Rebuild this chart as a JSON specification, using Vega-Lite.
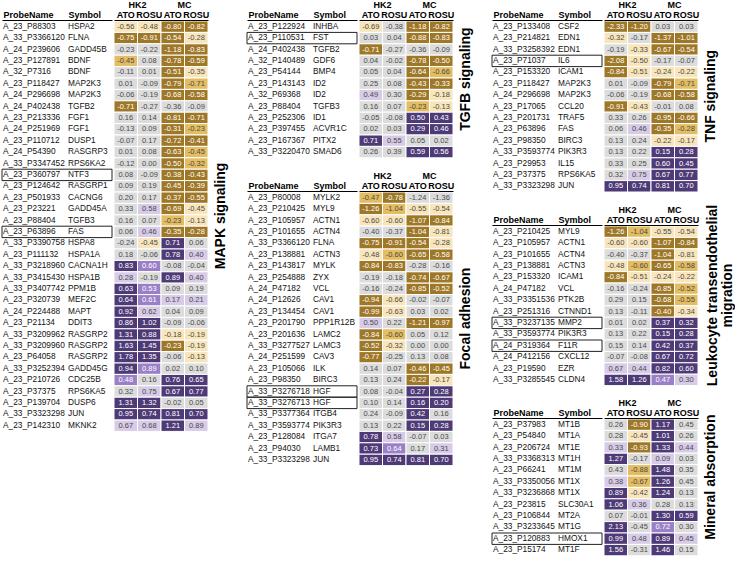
{
  "$schema": "https://vega.github.io/schema/vega-lite/v6.json",
  "padding": {"left": 1, "top": 0, "right": 0, "bottom": 0},
  "config": {
    "view": {"stroke": null},
    "font": "Liberation Sans",
    "locale": {"number": {"decimal": ".", "thousands": ",", "grouping": [3], "currency": ["$", ""], "minus": "-"}}
  },
  "datasets": {
    "mapk_rows": [
      {"probe": "A_23_P88303", "gene": "HSPA2"},
      {"probe": "A_33_P3366120", "gene": "FLNA"},
      {"probe": "A_24_P239606", "gene": "GADD45B"},
      {"probe": "A_23_P127891", "gene": "BDNF"},
      {"probe": "A_32_P7316", "gene": "BDNF"},
      {"probe": "A_23_P118427", "gene": "MAP2K3"},
      {"probe": "A_24_P296698", "gene": "MAP2K3"},
      {"probe": "A_24_P402438", "gene": "TGFB2"},
      {"probe": "A_23_P213336", "gene": "FGF1"},
      {"probe": "A_24_P251969", "gene": "FGF1"},
      {"probe": "A_23_P110712", "gene": "DUSP1"},
      {"probe": "A_24_P54390", "gene": "RASGRP3"},
      {"probe": "A_33_P3347452", "gene": "RPS6KA2"},
      {"probe": "A_23_P360797", "gene": "NTF3", "bold": true},
      {"probe": "A_23_P124642", "gene": "RASGRP1"},
      {"probe": "A_23_P501933", "gene": "CACNG6"},
      {"probe": "A_23_P23221", "gene": "GADD45A"},
      {"probe": "A_23_P88404", "gene": "TGFB3"},
      {"probe": "A_23_P63896", "gene": "FAS", "bold": true},
      {"probe": "A_33_P3390758", "gene": "HSPA8"},
      {"probe": "A_23_P111132", "gene": "HSPA1A"},
      {"probe": "A_33_P3218960", "gene": "CACNA1H"},
      {"probe": "A_33_P3415430", "gene": "HSPA1B"},
      {"probe": "A_33_P3407742", "gene": "PPM1B"},
      {"probe": "A_23_P320739", "gene": "MEF2C"},
      {"probe": "A_24_P224488", "gene": "MAPT"},
      {"probe": "A_23_P21134", "gene": "DDIT3"},
      {"probe": "A_33_P3209962", "gene": "RASGRP2"},
      {"probe": "A_33_P3209960", "gene": "RASGRP2"},
      {"probe": "A_23_P64058", "gene": "RASGRP2"},
      {"probe": "A_33_P3252394", "gene": "GADD45G"},
      {"probe": "A_23_P210726", "gene": "CDC25B"},
      {"probe": "A_23_P37375", "gene": "RPS6KA5"},
      {"probe": "A_23_P139704", "gene": "DUSP6"},
      {"probe": "A_33_P3323298", "gene": "JUN"},
      {"probe": "A_23_P142310", "gene": "MKNK2"}
    ],
    "mapk_cells": [
      {"probe": "A_23_P88303", "col": "HK2 ATO", "val": -0.56, "lvl": -1},
      {"probe": "A_23_P88303", "col": "HK2 ROSU", "val": -0.48, "lvl": -1},
      {"probe": "A_23_P88303", "col": "MC ATO", "val": -0.80, "lvl": -3},
      {"probe": "A_23_P88303", "col": "MC ROSU", "val": -0.82, "lvl": -3},
      {"probe": "A_33_P3366120", "col": "HK2 ATO", "val": -0.75, "lvl": -3},
      {"probe": "A_33_P3366120", "col": "HK2 ROSU", "val": -0.91, "lvl": -3},
      {"probe": "A_33_P3366120", "col": "MC ATO", "val": -0.54, "lvl": -3},
      {"probe": "A_33_P3366120", "col": "MC ROSU", "val": -0.28, "lvl": -1},
      {"probe": "A_24_P239606", "col": "HK2 ATO", "val": -0.23, "lvl": 0},
      {"probe": "A_24_P239606", "col": "HK2 ROSU", "val": -0.22, "lvl": 0},
      {"probe": "A_24_P239606", "col": "MC ATO", "val": -1.18, "lvl": -3},
      {"probe": "A_24_P239606", "col": "MC ROSU", "val": -0.83, "lvl": -3},
      {"probe": "A_23_P127891", "col": "HK2 ATO", "val": -0.45, "lvl": -2},
      {"probe": "A_23_P127891", "col": "HK2 ROSU", "val": 0.08, "lvl": 0},
      {"probe": "A_23_P127891", "col": "MC ATO", "val": -0.78, "lvl": -3},
      {"probe": "A_23_P127891", "col": "MC ROSU", "val": -0.59, "lvl": -3},
      {"probe": "A_32_P7316", "col": "HK2 ATO", "val": -0.11, "lvl": 0},
      {"probe": "A_32_P7316", "col": "HK2 ROSU", "val": 0.01, "lvl": 0},
      {"probe": "A_32_P7316", "col": "MC ATO", "val": -0.51, "lvl": -3},
      {"probe": "A_32_P7316", "col": "MC ROSU", "val": -0.35, "lvl": -1},
      {"probe": "A_23_P118427", "col": "HK2 ATO", "val": 0.01, "lvl": 0},
      {"probe": "A_23_P118427", "col": "HK2 ROSU", "val": -0.09, "lvl": 0},
      {"probe": "A_23_P118427", "col": "MC ATO", "val": -0.79, "lvl": -3},
      {"probe": "A_23_P118427", "col": "MC ROSU", "val": -0.71, "lvl": -2},
      {"probe": "A_24_P296698", "col": "HK2 ATO", "val": -0.06, "lvl": 0},
      {"probe": "A_24_P296698", "col": "HK2 ROSU", "val": -0.19, "lvl": 0},
      {"probe": "A_24_P296698", "col": "MC ATO", "val": -0.68, "lvl": -3},
      {"probe": "A_24_P296698", "col": "MC ROSU", "val": -0.58, "lvl": -3},
      {"probe": "A_24_P402438", "col": "HK2 ATO", "val": -0.71, "lvl": -3},
      {"probe": "A_24_P402438", "col": "HK2 ROSU", "val": -0.27, "lvl": 0},
      {"probe": "A_24_P402438", "col": "MC ATO", "val": -0.36, "lvl": 0},
      {"probe": "A_24_P402438", "col": "MC ROSU", "val": -0.09, "lvl": 0},
      {"probe": "A_23_P213336", "col": "HK2 ATO", "val": 0.16, "lvl": 0},
      {"probe": "A_23_P213336", "col": "HK2 ROSU", "val": 0.14, "lvl": 0},
      {"probe": "A_23_P213336", "col": "MC ATO", "val": -0.81, "lvl": -3},
      {"probe": "A_23_P213336", "col": "MC ROSU", "val": -0.71, "lvl": -3},
      {"probe": "A_24_P251969", "col": "HK2 ATO", "val": -0.13, "lvl": 0},
      {"probe": "A_24_P251969", "col": "HK2 ROSU", "val": 0.09, "lvl": 0},
      {"probe": "A_24_P251969", "col": "MC ATO", "val": -0.31, "lvl": -3},
      {"probe": "A_24_P251969", "col": "MC ROSU", "val": -0.23, "lvl": -2},
      {"probe": "A_23_P110712", "col": "HK2 ATO", "val": -0.07, "lvl": 0},
      {"probe": "A_23_P110712", "col": "HK2 ROSU", "val": 0.17, "lvl": 0},
      {"probe": "A_23_P110712", "col": "MC ATO", "val": -0.72, "lvl": -3},
      {"probe": "A_23_P110712", "col": "MC ROSU", "val": -0.41, "lvl": -3},
      {"probe": "A_24_P54390", "col": "HK2 ATO", "val": 0.01, "lvl": 0},
      {"probe": "A_24_P54390", "col": "HK2 ROSU", "val": 0.08, "lvl": 0},
      {"probe": "A_24_P54390", "col": "MC ATO", "val": -0.63, "lvl": -3},
      {"probe": "A_24_P54390", "col": "MC ROSU", "val": -0.45, "lvl": -2},
      {"probe": "A_33_P3347452", "col": "HK2 ATO", "val": -0.12, "lvl": 0},
      {"probe": "A_33_P3347452", "col": "HK2 ROSU", "val": 0.00, "lvl": 0},
      {"probe": "A_33_P3347452", "col": "MC ATO", "val": -0.50, "lvl": -3},
      {"probe": "A_33_P3347452", "col": "MC ROSU", "val": -0.32, "lvl": -2},
      {"probe": "A_23_P360797", "col": "HK2 ATO", "val": 0.08, "lvl": 0},
      {"probe": "A_23_P360797", "col": "HK2 ROSU", "val": -0.09, "lvl": 0},
      {"probe": "A_23_P360797", "col": "MC ATO", "val": -0.38, "lvl": -3},
      {"probe": "A_23_P360797", "col": "MC ROSU", "val": -0.43, "lvl": -3},
      {"probe": "A_23_P124642", "col": "HK2 ATO", "val": 0.09, "lvl": 0},
      {"probe": "A_23_P124642", "col": "HK2 ROSU", "val": 0.19, "lvl": 0},
      {"probe": "A_23_P124642", "col": "MC ATO", "val": -0.45, "lvl": -3},
      {"probe": "A_23_P124642", "col": "MC ROSU", "val": -0.39, "lvl": -3},
      {"probe": "A_23_P501933", "col": "HK2 ATO", "val": 0.20, "lvl": 0},
      {"probe": "A_23_P501933", "col": "HK2 ROSU", "val": 0.17, "lvl": 0},
      {"probe": "A_23_P501933", "col": "MC ATO", "val": -0.37, "lvl": -3},
      {"probe": "A_23_P501933", "col": "MC ROSU", "val": -0.55, "lvl": -3},
      {"probe": "A_23_P23221", "col": "HK2 ATO", "val": 0.33, "lvl": 0},
      {"probe": "A_23_P23221", "col": "HK2 ROSU", "val": 0.58, "lvl": 1},
      {"probe": "A_23_P23221", "col": "MC ATO", "val": -0.69, "lvl": -3},
      {"probe": "A_23_P23221", "col": "MC ROSU", "val": -0.45, "lvl": -1},
      {"probe": "A_23_P88404", "col": "HK2 ATO", "val": 0.16, "lvl": 0},
      {"probe": "A_23_P88404", "col": "HK2 ROSU", "val": 0.07, "lvl": 0},
      {"probe": "A_23_P88404", "col": "MC ATO", "val": -0.23, "lvl": -2},
      {"probe": "A_23_P88404", "col": "MC ROSU", "val": -0.13, "lvl": -1},
      {"probe": "A_23_P63896", "col": "HK2 ATO", "val": 0.06, "lvl": 0},
      {"probe": "A_23_P63896", "col": "HK2 ROSU", "val": 0.46, "lvl": 1},
      {"probe": "A_23_P63896", "col": "MC ATO", "val": -0.35, "lvl": -3},
      {"probe": "A_23_P63896", "col": "MC ROSU", "val": -0.28, "lvl": -3},
      {"probe": "A_33_P3390758", "col": "HK2 ATO", "val": -0.24, "lvl": 0},
      {"probe": "A_33_P3390758", "col": "HK2 ROSU", "val": -0.45, "lvl": -1},
      {"probe": "A_33_P3390758", "col": "MC ATO", "val": 0.71, "lvl": 3},
      {"probe": "A_33_P3390758", "col": "MC ROSU", "val": 0.06, "lvl": 0},
      {"probe": "A_23_P111132", "col": "HK2 ATO", "val": 0.18, "lvl": 0},
      {"probe": "A_23_P111132", "col": "HK2 ROSU", "val": -0.06, "lvl": 0},
      {"probe": "A_23_P111132", "col": "MC ATO", "val": 0.78, "lvl": 3},
      {"probe": "A_23_P111132", "col": "MC ROSU", "val": 0.40, "lvl": 1},
      {"probe": "A_33_P3218960", "col": "HK2 ATO", "val": 0.83, "lvl": 3},
      {"probe": "A_33_P3218960", "col": "HK2 ROSU", "val": 0.60, "lvl": 2},
      {"probe": "A_33_P3218960", "col": "MC ATO", "val": -0.08, "lvl": 0},
      {"probe": "A_33_P3218960", "col": "MC ROSU", "val": -0.04, "lvl": 0},
      {"probe": "A_33_P3415430", "col": "HK2 ATO", "val": 0.28, "lvl": 1},
      {"probe": "A_33_P3415430", "col": "HK2 ROSU", "val": -0.19, "lvl": 0},
      {"probe": "A_33_P3415430", "col": "MC ATO", "val": 0.89, "lvl": 3},
      {"probe": "A_33_P3415430", "col": "MC ROSU", "val": 0.40, "lvl": 1},
      {"probe": "A_33_P3407742", "col": "HK2 ATO", "val": 0.63, "lvl": 3},
      {"probe": "A_33_P3407742", "col": "HK2 ROSU", "val": 0.53, "lvl": 2},
      {"probe": "A_33_P3407742", "col": "MC ATO", "val": 0.09, "lvl": 0},
      {"probe": "A_33_P3407742", "col": "MC ROSU", "val": 0.19, "lvl": 0},
      {"probe": "A_23_P320739", "col": "HK2 ATO", "val": 0.64, "lvl": 3},
      {"probe": "A_23_P320739", "col": "HK2 ROSU", "val": 0.61, "lvl": 2},
      {"probe": "A_23_P320739", "col": "MC ATO", "val": 0.17, "lvl": 1},
      {"probe": "A_23_P320739", "col": "MC ROSU", "val": 0.21, "lvl": 1},
      {"probe": "A_24_P224488", "col": "HK2 ATO", "val": 0.92, "lvl": 3},
      {"probe": "A_24_P224488", "col": "HK2 ROSU", "val": 0.62, "lvl": 1},
      {"probe": "A_24_P224488", "col": "MC ATO", "val": 0.04, "lvl": 0},
      {"probe": "A_24_P224488", "col": "MC ROSU", "val": 0.09, "lvl": 0},
      {"probe": "A_23_P21134", "col": "HK2 ATO", "val": 0.86, "lvl": 3},
      {"probe": "A_23_P21134", "col": "HK2 ROSU", "val": 1.02, "lvl": 3},
      {"probe": "A_23_P21134", "col": "MC ATO", "val": -0.09, "lvl": 0},
      {"probe": "A_23_P21134", "col": "MC ROSU", "val": -0.06, "lvl": 0},
      {"probe": "A_33_P3209962", "col": "HK2 ATO", "val": 1.31, "lvl": 3},
      {"probe": "A_33_P3209962", "col": "HK2 ROSU", "val": 0.88, "lvl": 3},
      {"probe": "A_33_P3209962", "col": "MC ATO", "val": -0.18, "lvl": -1},
      {"probe": "A_33_P3209962", "col": "MC ROSU", "val": -0.19, "lvl": -1},
      {"probe": "A_33_P3209960", "col": "HK2 ATO", "val": 1.63, "lvl": 3},
      {"probe": "A_33_P3209960", "col": "HK2 ROSU", "val": 1.45, "lvl": 3},
      {"probe": "A_33_P3209960", "col": "MC ATO", "val": -0.23, "lvl": -3},
      {"probe": "A_33_P3209960", "col": "MC ROSU", "val": -0.19, "lvl": -1},
      {"probe": "A_23_P64058", "col": "HK2 ATO", "val": 1.78, "lvl": 3},
      {"probe": "A_23_P64058", "col": "HK2 ROSU", "val": 1.35, "lvl": 3},
      {"probe": "A_23_P64058", "col": "MC ATO", "val": -0.06, "lvl": 0},
      {"probe": "A_23_P64058", "col": "MC ROSU", "val": -0.13, "lvl": -1},
      {"probe": "A_33_P3252394", "col": "HK2 ATO", "val": 0.94, "lvl": 3},
      {"probe": "A_33_P3252394", "col": "HK2 ROSU", "val": 0.89, "lvl": 2},
      {"probe": "A_33_P3252394", "col": "MC ATO", "val": 0.02, "lvl": 0},
      {"probe": "A_33_P3252394", "col": "MC ROSU", "val": 0.10, "lvl": 0},
      {"probe": "A_23_P210726", "col": "HK2 ATO", "val": 0.48, "lvl": 2},
      {"probe": "A_23_P210726", "col": "HK2 ROSU", "val": 0.16, "lvl": 0},
      {"probe": "A_23_P210726", "col": "MC ATO", "val": 0.76, "lvl": 3},
      {"probe": "A_23_P210726", "col": "MC ROSU", "val": 0.65, "lvl": 3},
      {"probe": "A_23_P37375", "col": "HK2 ATO", "val": 0.32, "lvl": 0},
      {"probe": "A_23_P37375", "col": "HK2 ROSU", "val": 0.75, "lvl": 1},
      {"probe": "A_23_P37375", "col": "MC ATO", "val": 0.67, "lvl": 3},
      {"probe": "A_23_P37375", "col": "MC ROSU", "val": 0.77, "lvl": 3},
      {"probe": "A_23_P139704", "col": "HK2 ATO", "val": 1.31, "lvl": 3},
      {"probe": "A_23_P139704", "col": "HK2 ROSU", "val": 1.32, "lvl": 3},
      {"probe": "A_23_P139704", "col": "MC ATO", "val": -0.02, "lvl": 0},
      {"probe": "A_23_P139704", "col": "MC ROSU", "val": 0.05, "lvl": 0},
      {"probe": "A_33_P3323298", "col": "HK2 ATO", "val": 0.95, "lvl": 3},
      {"probe": "A_33_P3323298", "col": "HK2 ROSU", "val": 0.74, "lvl": 3},
      {"probe": "A_33_P3323298", "col": "MC ATO", "val": 0.81, "lvl": 3},
      {"probe": "A_33_P3323298", "col": "MC ROSU", "val": 0.70, "lvl": 3},
      {"probe": "A_23_P142310", "col": "HK2 ATO", "val": 0.67, "lvl": 1},
      {"probe": "A_23_P142310", "col": "HK2 ROSU", "val": 0.68, "lvl": 1},
      {"probe": "A_23_P142310", "col": "MC ATO", "val": 1.21, "lvl": 3},
      {"probe": "A_23_P142310", "col": "MC ROSU", "val": 0.89, "lvl": 1}
    ],
    "tgfb_rows": [
      {"probe": "A_23_P122924", "gene": "INHBA"},
      {"probe": "A_23_P110531", "gene": "FST", "bold": true},
      {"probe": "A_24_P402438", "gene": "TGFB2"},
      {"probe": "A_32_P140489", "gene": "GDF6"},
      {"probe": "A_23_P54144", "gene": "BMP4"},
      {"probe": "A_23_P143143", "gene": "ID2"},
      {"probe": "A_32_P69368", "gene": "ID2"},
      {"probe": "A_23_P88404", "gene": "TGFB3"},
      {"probe": "A_23_P252306", "gene": "ID1"},
      {"probe": "A_23_P397455", "gene": "ACVR1C"},
      {"probe": "A_23_P167367", "gene": "PITX2"},
      {"probe": "A_33_P3220470", "gene": "SMAD6"}
    ],
    "tgfb_cells": [
      {"probe": "A_23_P122924", "col": "HK2 ATO", "val": -0.69, "lvl": -1},
      {"probe": "A_23_P122924", "col": "HK2 ROSU", "val": -0.38, "lvl": 0},
      {"probe": "A_23_P122924", "col": "MC ATO", "val": -1.18, "lvl": -3},
      {"probe": "A_23_P122924", "col": "MC ROSU", "val": -0.82, "lvl": -3},
      {"probe": "A_23_P110531", "col": "HK2 ATO", "val": 0.03, "lvl": 0},
      {"probe": "A_23_P110531", "col": "HK2 ROSU", "val": 0.04, "lvl": 0},
      {"probe": "A_23_P110531", "col": "MC ATO", "val": -0.88, "lvl": -3},
      {"probe": "A_23_P110531", "col": "MC ROSU", "val": -0.83, "lvl": -3},
      {"probe": "A_24_P402438", "col": "HK2 ATO", "val": -0.71, "lvl": -3},
      {"probe": "A_24_P402438", "col": "HK2 ROSU", "val": -0.27, "lvl": 0},
      {"probe": "A_24_P402438", "col": "MC ATO", "val": -0.36, "lvl": 0},
      {"probe": "A_24_P402438", "col": "MC ROSU", "val": -0.09, "lvl": 0},
      {"probe": "A_32_P140489", "col": "HK2 ATO", "val": 0.04, "lvl": 0},
      {"probe": "A_32_P140489", "col": "HK2 ROSU", "val": -0.02, "lvl": 0},
      {"probe": "A_32_P140489", "col": "MC ATO", "val": -0.78, "lvl": -3},
      {"probe": "A_32_P140489", "col": "MC ROSU", "val": -0.50, "lvl": -3},
      {"probe": "A_23_P54144", "col": "HK2 ATO", "val": 0.05, "lvl": 0},
      {"probe": "A_23_P54144", "col": "HK2 ROSU", "val": 0.04, "lvl": 0},
      {"probe": "A_23_P54144", "col": "MC ATO", "val": -0.64, "lvl": -3},
      {"probe": "A_23_P54144", "col": "MC ROSU", "val": -0.66, "lvl": -2},
      {"probe": "A_23_P143143", "col": "HK2 ATO", "val": 0.25, "lvl": 0},
      {"probe": "A_23_P143143", "col": "HK2 ROSU", "val": 0.08, "lvl": 0},
      {"probe": "A_23_P143143", "col": "MC ATO", "val": -0.43, "lvl": -3},
      {"probe": "A_23_P143143", "col": "MC ROSU", "val": -0.33, "lvl": -3},
      {"probe": "A_32_P69368", "col": "HK2 ATO", "val": 0.49, "lvl": 1},
      {"probe": "A_32_P69368", "col": "HK2 ROSU", "val": 0.30, "lvl": 0},
      {"probe": "A_32_P69368", "col": "MC ATO", "val": -0.29, "lvl": -3},
      {"probe": "A_32_P69368", "col": "MC ROSU", "val": -0.18, "lvl": -1},
      {"probe": "A_23_P88404", "col": "HK2 ATO", "val": 0.16, "lvl": 0},
      {"probe": "A_23_P88404", "col": "HK2 ROSU", "val": 0.07, "lvl": 0},
      {"probe": "A_23_P88404", "col": "MC ATO", "val": -0.23, "lvl": -2},
      {"probe": "A_23_P88404", "col": "MC ROSU", "val": -0.13, "lvl": -1},
      {"probe": "A_23_P252306", "col": "HK2 ATO", "val": -0.05, "lvl": 0},
      {"probe": "A_23_P252306", "col": "HK2 ROSU", "val": -0.08, "lvl": 0},
      {"probe": "A_23_P252306", "col": "MC ATO", "val": 0.50, "lvl": 3},
      {"probe": "A_23_P252306", "col": "MC ROSU", "val": 0.43, "lvl": 3},
      {"probe": "A_23_P397455", "col": "HK2 ATO", "val": 0.02, "lvl": 0},
      {"probe": "A_23_P397455", "col": "HK2 ROSU", "val": 0.03, "lvl": 0},
      {"probe": "A_23_P397455", "col": "MC ATO", "val": 0.29, "lvl": 3},
      {"probe": "A_23_P397455", "col": "MC ROSU", "val": 0.46, "lvl": 3},
      {"probe": "A_23_P167367", "col": "HK2 ATO", "val": 0.71, "lvl": 3},
      {"probe": "A_23_P167367", "col": "HK2 ROSU", "val": 0.55, "lvl": 1},
      {"probe": "A_23_P167367", "col": "MC ATO", "val": 0.05, "lvl": 0},
      {"probe": "A_23_P167367", "col": "MC ROSU", "val": 0.02, "lvl": 0},
      {"probe": "A_33_P3220470", "col": "HK2 ATO", "val": 0.26, "lvl": 0},
      {"probe": "A_33_P3220470", "col": "HK2 ROSU", "val": 0.39, "lvl": 0},
      {"probe": "A_33_P3220470", "col": "MC ATO", "val": 0.59, "lvl": 3},
      {"probe": "A_33_P3220470", "col": "MC ROSU", "val": 0.56, "lvl": 3}
    ],
    "focal_rows": [
      {"probe": "A_23_P80008", "gene": "MYLK2"},
      {"probe": "A_23_P210425", "gene": "MYL9"},
      {"probe": "A_23_P105957", "gene": "ACTN1"},
      {"probe": "A_23_P101655", "gene": "ACTN4"},
      {"probe": "A_33_P3366120", "gene": "FLNA"},
      {"probe": "A_23_P138881", "gene": "ACTN3"},
      {"probe": "A_23_P143817", "gene": "MYLK"},
      {"probe": "A_23_P254888", "gene": "ZYX"},
      {"probe": "A_24_P47182", "gene": "VCL"},
      {"probe": "A_24_P12626", "gene": "CAV1"},
      {"probe": "A_23_P134454", "gene": "CAV1"},
      {"probe": "A_23_P201790", "gene": "PPP1R12B"},
      {"probe": "A_23_P201636", "gene": "LAMC2"},
      {"probe": "A_33_P3277527", "gene": "LAMC3"},
      {"probe": "A_24_P251599", "gene": "CAV3"},
      {"probe": "A_23_P105066", "gene": "ILK"},
      {"probe": "A_23_P98350", "gene": "BIRC3"},
      {"probe": "A_33_P3276718", "gene": "HGF", "bold": true},
      {"probe": "A_33_P3276713", "gene": "HGF", "bold": true},
      {"probe": "A_33_P3377364", "gene": "ITGB4"},
      {"probe": "A_33_P3593774", "gene": "PIK3R3"},
      {"probe": "A_23_P128084", "gene": "ITGA7"},
      {"probe": "A_23_P94030", "gene": "LAMB1"},
      {"probe": "A_33_P3323298", "gene": "JUN"}
    ],
    "focal_cells": [
      {"probe": "A_23_P80008", "col": "HK2 ATO", "val": -0.47, "lvl": -2},
      {"probe": "A_23_P80008", "col": "HK2 ROSU", "val": -0.78, "lvl": -3},
      {"probe": "A_23_P80008", "col": "MC ATO", "val": -1.24, "lvl": 0},
      {"probe": "A_23_P80008", "col": "MC ROSU", "val": -1.36, "lvl": 0},
      {"probe": "A_23_P210425", "col": "HK2 ATO", "val": -1.26, "lvl": -3},
      {"probe": "A_23_P210425", "col": "HK2 ROSU", "val": -1.04, "lvl": -2},
      {"probe": "A_23_P210425", "col": "MC ATO", "val": -0.55, "lvl": -1},
      {"probe": "A_23_P210425", "col": "MC ROSU", "val": -0.54, "lvl": -1},
      {"probe": "A_23_P105957", "col": "HK2 ATO", "val": -0.60, "lvl": -1},
      {"probe": "A_23_P105957", "col": "HK2 ROSU", "val": -0.60, "lvl": -1},
      {"probe": "A_23_P105957", "col": "MC ATO", "val": -1.07, "lvl": -3},
      {"probe": "A_23_P105957", "col": "MC ROSU", "val": -0.84, "lvl": -3},
      {"probe": "A_23_P101655", "col": "HK2 ATO", "val": -0.40, "lvl": 0},
      {"probe": "A_23_P101655", "col": "HK2 ROSU", "val": -0.37, "lvl": 0},
      {"probe": "A_23_P101655", "col": "MC ATO", "val": -1.04, "lvl": -3},
      {"probe": "A_23_P101655", "col": "MC ROSU", "val": -0.81, "lvl": -1},
      {"probe": "A_33_P3366120", "col": "HK2 ATO", "val": -0.75, "lvl": -3},
      {"probe": "A_33_P3366120", "col": "HK2 ROSU", "val": -0.91, "lvl": -3},
      {"probe": "A_33_P3366120", "col": "MC ATO", "val": -0.54, "lvl": -3},
      {"probe": "A_33_P3366120", "col": "MC ROSU", "val": -0.28, "lvl": -1},
      {"probe": "A_23_P138881", "col": "HK2 ATO", "val": -0.48, "lvl": -1},
      {"probe": "A_23_P138881", "col": "HK2 ROSU", "val": -0.60, "lvl": -2},
      {"probe": "A_23_P138881", "col": "MC ATO", "val": -0.65, "lvl": -3},
      {"probe": "A_23_P138881", "col": "MC ROSU", "val": -0.58, "lvl": -3},
      {"probe": "A_23_P143817", "col": "HK2 ATO", "val": -0.84, "lvl": -3},
      {"probe": "A_23_P143817", "col": "HK2 ROSU", "val": -0.83, "lvl": -3},
      {"probe": "A_23_P143817", "col": "MC ATO", "val": -0.28, "lvl": 0},
      {"probe": "A_23_P143817", "col": "MC ROSU", "val": -0.16, "lvl": 0},
      {"probe": "A_23_P254888", "col": "HK2 ATO", "val": -0.19, "lvl": 0},
      {"probe": "A_23_P254888", "col": "HK2 ROSU", "val": -0.18, "lvl": 0},
      {"probe": "A_23_P254888", "col": "MC ATO", "val": -0.74, "lvl": -3},
      {"probe": "A_23_P254888", "col": "MC ROSU", "val": -0.67, "lvl": -3},
      {"probe": "A_24_P47182", "col": "HK2 ATO", "val": -0.16, "lvl": 0},
      {"probe": "A_24_P47182", "col": "HK2 ROSU", "val": -0.24, "lvl": 0},
      {"probe": "A_24_P47182", "col": "MC ATO", "val": -0.85, "lvl": -3},
      {"probe": "A_24_P47182", "col": "MC ROSU", "val": -0.52, "lvl": -3},
      {"probe": "A_24_P12626", "col": "HK2 ATO", "val": -0.94, "lvl": -3},
      {"probe": "A_24_P12626", "col": "HK2 ROSU", "val": -0.66, "lvl": -1},
      {"probe": "A_24_P12626", "col": "MC ATO", "val": -0.02, "lvl": 0},
      {"probe": "A_24_P12626", "col": "MC ROSU", "val": -0.07, "lvl": 0},
      {"probe": "A_23_P134454", "col": "HK2 ATO", "val": -0.99, "lvl": -3},
      {"probe": "A_23_P134454", "col": "HK2 ROSU", "val": -0.63, "lvl": -1},
      {"probe": "A_23_P134454", "col": "MC ATO", "val": 0.03, "lvl": 0},
      {"probe": "A_23_P134454", "col": "MC ROSU", "val": 0.02, "lvl": 0},
      {"probe": "A_23_P201790", "col": "HK2 ATO", "val": 0.50, "lvl": 1},
      {"probe": "A_23_P201790", "col": "HK2 ROSU", "val": 0.22, "lvl": 0},
      {"probe": "A_23_P201790", "col": "MC ATO", "val": -1.21, "lvl": -3},
      {"probe": "A_23_P201790", "col": "MC ROSU", "val": -0.97, "lvl": -3},
      {"probe": "A_23_P201636", "col": "HK2 ATO", "val": -0.84, "lvl": -3},
      {"probe": "A_23_P201636", "col": "HK2 ROSU", "val": -0.60, "lvl": -2},
      {"probe": "A_23_P201636", "col": "MC ATO", "val": 0.05, "lvl": 0},
      {"probe": "A_23_P201636", "col": "MC ROSU", "val": 0.12, "lvl": 0},
      {"probe": "A_33_P3277527", "col": "HK2 ATO", "val": -0.52, "lvl": -3},
      {"probe": "A_33_P3277527", "col": "HK2 ROSU", "val": -0.32, "lvl": -1},
      {"probe": "A_33_P3277527", "col": "MC ATO", "val": 0.00, "lvl": 0},
      {"probe": "A_33_P3277527", "col": "MC ROSU", "val": 0.00, "lvl": 0},
      {"probe": "A_24_P251599", "col": "HK2 ATO", "val": -0.77, "lvl": -3},
      {"probe": "A_24_P251599", "col": "HK2 ROSU", "val": -0.25, "lvl": 0},
      {"probe": "A_24_P251599", "col": "MC ATO", "val": 0.13, "lvl": 0},
      {"probe": "A_24_P251599", "col": "MC ROSU", "val": 0.08, "lvl": 0},
      {"probe": "A_23_P105066", "col": "HK2 ATO", "val": 0.14, "lvl": 0},
      {"probe": "A_23_P105066", "col": "HK2 ROSU", "val": 0.07, "lvl": 0},
      {"probe": "A_23_P105066", "col": "MC ATO", "val": -0.46, "lvl": -3},
      {"probe": "A_23_P105066", "col": "MC ROSU", "val": -0.45, "lvl": -3},
      {"probe": "A_23_P98350", "col": "HK2 ATO", "val": 0.13, "lvl": 0},
      {"probe": "A_23_P98350", "col": "HK2 ROSU", "val": 0.24, "lvl": 0},
      {"probe": "A_23_P98350", "col": "MC ATO", "val": -0.22, "lvl": -3},
      {"probe": "A_23_P98350", "col": "MC ROSU", "val": -0.17, "lvl": -1},
      {"probe": "A_33_P3276718", "col": "HK2 ATO", "val": 0.08, "lvl": 0},
      {"probe": "A_33_P3276718", "col": "HK2 ROSU", "val": -0.04, "lvl": 0},
      {"probe": "A_33_P3276718", "col": "MC ATO", "val": 0.27, "lvl": 3},
      {"probe": "A_33_P3276718", "col": "MC ROSU", "val": 0.28, "lvl": 3},
      {"probe": "A_33_P3276713", "col": "HK2 ATO", "val": 0.10, "lvl": 0},
      {"probe": "A_33_P3276713", "col": "HK2 ROSU", "val": 0.14, "lvl": 0},
      {"probe": "A_33_P3276713", "col": "MC ATO", "val": 0.16, "lvl": 3},
      {"probe": "A_33_P3276713", "col": "MC ROSU", "val": 0.20, "lvl": 3},
      {"probe": "A_33_P3377364", "col": "HK2 ATO", "val": 0.24, "lvl": 0},
      {"probe": "A_33_P3377364", "col": "HK2 ROSU", "val": -0.09, "lvl": 0},
      {"probe": "A_33_P3377364", "col": "MC ATO", "val": 0.42, "lvl": 3},
      {"probe": "A_33_P3377364", "col": "MC ROSU", "val": 0.16, "lvl": 0},
      {"probe": "A_33_P3593774", "col": "HK2 ATO", "val": 0.13, "lvl": 0},
      {"probe": "A_33_P3593774", "col": "HK2 ROSU", "val": 0.22, "lvl": 0},
      {"probe": "A_33_P3593774", "col": "MC ATO", "val": 0.15, "lvl": 3},
      {"probe": "A_33_P3593774", "col": "MC ROSU", "val": 0.28, "lvl": 3},
      {"probe": "A_23_P128084", "col": "HK2 ATO", "val": 0.78, "lvl": 3},
      {"probe": "A_23_P128084", "col": "HK2 ROSU", "val": 0.58, "lvl": 1},
      {"probe": "A_23_P128084", "col": "MC ATO", "val": -0.07, "lvl": 0},
      {"probe": "A_23_P128084", "col": "MC ROSU", "val": 0.03, "lvl": 0},
      {"probe": "A_23_P94030", "col": "HK2 ATO", "val": 0.73, "lvl": 3},
      {"probe": "A_23_P94030", "col": "HK2 ROSU", "val": 0.64, "lvl": 2},
      {"probe": "A_23_P94030", "col": "MC ATO", "val": 0.17, "lvl": 0},
      {"probe": "A_23_P94030", "col": "MC ROSU", "val": 0.31, "lvl": 1},
      {"probe": "A_33_P3323298", "col": "HK2 ATO", "val": 0.95, "lvl": 3},
      {"probe": "A_33_P3323298", "col": "HK2 ROSU", "val": 0.74, "lvl": 3},
      {"probe": "A_33_P3323298", "col": "MC ATO", "val": 0.81, "lvl": 3},
      {"probe": "A_33_P3323298", "col": "MC ROSU", "val": 0.70, "lvl": 3}
    ],
    "tnf_rows": [
      {"probe": "A_23_P133408", "gene": "CSF2"},
      {"probe": "A_23_P214821", "gene": "EDN1"},
      {"probe": "A_33_P3258392", "gene": "EDN1"},
      {"probe": "A_23_P71037", "gene": "IL6", "bold": true},
      {"probe": "A_23_P153320", "gene": "ICAM1"},
      {"probe": "A_23_P118427", "gene": "MAP2K3"},
      {"probe": "A_24_P296698", "gene": "MAP2K3"},
      {"probe": "A_23_P17065", "gene": "CCL20"},
      {"probe": "A_23_P201731", "gene": "TRAF5"},
      {"probe": "A_23_P63896", "gene": "FAS"},
      {"probe": "A_23_P98350", "gene": "BIRC3"},
      {"probe": "A_33_P3593774", "gene": "PIK3R3"},
      {"probe": "A_23_P29953", "gene": "IL15"},
      {"probe": "A_23_P37375", "gene": "RPS6KA5"},
      {"probe": "A_33_P3323298", "gene": "JUN"}
    ],
    "tnf_cells": [
      {"probe": "A_23_P133408", "col": "HK2 ATO", "val": -2.33, "lvl": -3},
      {"probe": "A_23_P133408", "col": "HK2 ROSU", "val": -1.20, "lvl": -3},
      {"probe": "A_23_P133408", "col": "MC ATO", "val": 0.03, "lvl": 0},
      {"probe": "A_23_P133408", "col": "MC ROSU", "val": 0.03, "lvl": 0},
      {"probe": "A_23_P214821", "col": "HK2 ATO", "val": -0.32, "lvl": -1},
      {"probe": "A_23_P214821", "col": "HK2 ROSU", "val": -0.17, "lvl": 0},
      {"probe": "A_23_P214821", "col": "MC ATO", "val": -1.37, "lvl": -3},
      {"probe": "A_23_P214821", "col": "MC ROSU", "val": -1.01, "lvl": -3},
      {"probe": "A_33_P3258392", "col": "HK2 ATO", "val": -0.19, "lvl": 0},
      {"probe": "A_33_P3258392", "col": "HK2 ROSU", "val": -0.33, "lvl": -1},
      {"probe": "A_33_P3258392", "col": "MC ATO", "val": -0.67, "lvl": -3},
      {"probe": "A_33_P3258392", "col": "MC ROSU", "val": -0.54, "lvl": -3},
      {"probe": "A_23_P71037", "col": "HK2 ATO", "val": -2.08, "lvl": -3},
      {"probe": "A_23_P71037", "col": "HK2 ROSU", "val": -0.50, "lvl": -1},
      {"probe": "A_23_P71037", "col": "MC ATO", "val": -0.17, "lvl": 0},
      {"probe": "A_23_P71037", "col": "MC ROSU", "val": -0.07, "lvl": 0},
      {"probe": "A_23_P153320", "col": "HK2 ATO", "val": -0.84, "lvl": -3},
      {"probe": "A_23_P153320", "col": "HK2 ROSU", "val": -0.51, "lvl": -1},
      {"probe": "A_23_P153320", "col": "MC ATO", "val": -0.24, "lvl": -1},
      {"probe": "A_23_P153320", "col": "MC ROSU", "val": -0.22, "lvl": -1},
      {"probe": "A_23_P118427", "col": "HK2 ATO", "val": 0.01, "lvl": 0},
      {"probe": "A_23_P118427", "col": "HK2 ROSU", "val": -0.09, "lvl": 0},
      {"probe": "A_23_P118427", "col": "MC ATO", "val": -0.79, "lvl": -3},
      {"probe": "A_23_P118427", "col": "MC ROSU", "val": -0.71, "lvl": -2},
      {"probe": "A_24_P296698", "col": "HK2 ATO", "val": -0.06, "lvl": 0},
      {"probe": "A_24_P296698", "col": "HK2 ROSU", "val": -0.19, "lvl": 0},
      {"probe": "A_24_P296698", "col": "MC ATO", "val": -0.68, "lvl": -3},
      {"probe": "A_24_P296698", "col": "MC ROSU", "val": -0.58, "lvl": -3},
      {"probe": "A_23_P17065", "col": "HK2 ATO", "val": -0.91, "lvl": -3},
      {"probe": "A_23_P17065", "col": "HK2 ROSU", "val": -0.43, "lvl": -1},
      {"probe": "A_23_P17065", "col": "MC ATO", "val": -0.01, "lvl": 0},
      {"probe": "A_23_P17065", "col": "MC ROSU", "val": 0.08, "lvl": 0},
      {"probe": "A_23_P201731", "col": "HK2 ATO", "val": 0.33, "lvl": 0},
      {"probe": "A_23_P201731", "col": "HK2 ROSU", "val": 0.26, "lvl": 0},
      {"probe": "A_23_P201731", "col": "MC ATO", "val": -0.95, "lvl": -3},
      {"probe": "A_23_P201731", "col": "MC ROSU", "val": -0.66, "lvl": -3},
      {"probe": "A_23_P63896", "col": "HK2 ATO", "val": 0.06, "lvl": 0},
      {"probe": "A_23_P63896", "col": "HK2 ROSU", "val": 0.46, "lvl": 1},
      {"probe": "A_23_P63896", "col": "MC ATO", "val": -0.35, "lvl": -3},
      {"probe": "A_23_P63896", "col": "MC ROSU", "val": -0.28, "lvl": -2},
      {"probe": "A_23_P98350", "col": "HK2 ATO", "val": 0.13, "lvl": 0},
      {"probe": "A_23_P98350", "col": "HK2 ROSU", "val": 0.24, "lvl": 0},
      {"probe": "A_23_P98350", "col": "MC ATO", "val": -0.22, "lvl": -1},
      {"probe": "A_23_P98350", "col": "MC ROSU", "val": -0.17, "lvl": -1},
      {"probe": "A_33_P3593774", "col": "HK2 ATO", "val": 0.13, "lvl": 0},
      {"probe": "A_33_P3593774", "col": "HK2 ROSU", "val": 0.22, "lvl": 0},
      {"probe": "A_33_P3593774", "col": "MC ATO", "val": 0.15, "lvl": 3},
      {"probe": "A_33_P3593774", "col": "MC ROSU", "val": 0.28, "lvl": 3},
      {"probe": "A_23_P29953", "col": "HK2 ATO", "val": 0.33, "lvl": 0},
      {"probe": "A_23_P29953", "col": "HK2 ROSU", "val": 0.25, "lvl": 0},
      {"probe": "A_23_P29953", "col": "MC ATO", "val": 0.60, "lvl": 3},
      {"probe": "A_23_P29953", "col": "MC ROSU", "val": 0.45, "lvl": 3},
      {"probe": "A_23_P37375", "col": "HK2 ATO", "val": 0.32, "lvl": 0},
      {"probe": "A_23_P37375", "col": "HK2 ROSU", "val": 0.75, "lvl": 1},
      {"probe": "A_23_P37375", "col": "MC ATO", "val": 0.67, "lvl": 3},
      {"probe": "A_23_P37375", "col": "MC ROSU", "val": 0.77, "lvl": 3},
      {"probe": "A_33_P3323298", "col": "HK2 ATO", "val": 0.95, "lvl": 3},
      {"probe": "A_33_P3323298", "col": "HK2 ROSU", "val": 0.74, "lvl": 3},
      {"probe": "A_33_P3323298", "col": "MC ATO", "val": 0.81, "lvl": 3},
      {"probe": "A_33_P3323298", "col": "MC ROSU", "val": 0.70, "lvl": 3}
    ],
    "leuko_rows": [
      {"probe": "A_23_P210425", "gene": "MYL9"},
      {"probe": "A_23_P105957", "gene": "ACTN1"},
      {"probe": "A_23_P101655", "gene": "ACTN4"},
      {"probe": "A_23_P138881", "gene": "ACTN3"},
      {"probe": "A_23_P153320", "gene": "ICAM1"},
      {"probe": "A_24_P47182", "gene": "VCL"},
      {"probe": "A_33_P3351536", "gene": "PTK2B"},
      {"probe": "A_23_P251316", "gene": "CTNND1"},
      {"probe": "A_33_P3237135", "gene": "MMP2", "bold": true},
      {"probe": "A_33_P3593774", "gene": "PIK3R3"},
      {"probe": "A_24_P319364", "gene": "F11R", "bold": true},
      {"probe": "A_24_P412156", "gene": "CXCL12"},
      {"probe": "A_23_P19590", "gene": "EZR"},
      {"probe": "A_33_P3285545", "gene": "CLDN4"}
    ],
    "leuko_cells": [
      {"probe": "A_23_P210425", "col": "HK2 ATO", "val": -1.26, "lvl": -3},
      {"probe": "A_23_P210425", "col": "HK2 ROSU", "val": -1.04, "lvl": -2},
      {"probe": "A_23_P210425", "col": "MC ATO", "val": -0.55, "lvl": -1},
      {"probe": "A_23_P210425", "col": "MC ROSU", "val": -0.54, "lvl": -1},
      {"probe": "A_23_P105957", "col": "HK2 ATO", "val": -0.60, "lvl": -1},
      {"probe": "A_23_P105957", "col": "HK2 ROSU", "val": -0.60, "lvl": -1},
      {"probe": "A_23_P105957", "col": "MC ATO", "val": -1.07, "lvl": -3},
      {"probe": "A_23_P105957", "col": "MC ROSU", "val": -0.84, "lvl": -3},
      {"probe": "A_23_P101655", "col": "HK2 ATO", "val": -0.40, "lvl": 0},
      {"probe": "A_23_P101655", "col": "HK2 ROSU", "val": -0.37, "lvl": 0},
      {"probe": "A_23_P101655", "col": "MC ATO", "val": -1.04, "lvl": -3},
      {"probe": "A_23_P101655", "col": "MC ROSU", "val": -0.81, "lvl": -1},
      {"probe": "A_23_P138881", "col": "HK2 ATO", "val": -0.48, "lvl": -1},
      {"probe": "A_23_P138881", "col": "HK2 ROSU", "val": -0.60, "lvl": -2},
      {"probe": "A_23_P138881", "col": "MC ATO", "val": -0.65, "lvl": -3},
      {"probe": "A_23_P138881", "col": "MC ROSU", "val": -0.58, "lvl": -2},
      {"probe": "A_23_P153320", "col": "HK2 ATO", "val": -0.84, "lvl": -3},
      {"probe": "A_23_P153320", "col": "HK2 ROSU", "val": -0.51, "lvl": -1},
      {"probe": "A_23_P153320", "col": "MC ATO", "val": -0.24, "lvl": -1},
      {"probe": "A_23_P153320", "col": "MC ROSU", "val": -0.22, "lvl": -1},
      {"probe": "A_24_P47182", "col": "HK2 ATO", "val": -0.16, "lvl": 0},
      {"probe": "A_24_P47182", "col": "HK2 ROSU", "val": -0.24, "lvl": 0},
      {"probe": "A_24_P47182", "col": "MC ATO", "val": -0.85, "lvl": -3},
      {"probe": "A_24_P47182", "col": "MC ROSU", "val": -0.52, "lvl": -2},
      {"probe": "A_33_P3351536", "col": "HK2 ATO", "val": 0.29, "lvl": 0},
      {"probe": "A_33_P3351536", "col": "HK2 ROSU", "val": 0.15, "lvl": 0},
      {"probe": "A_33_P3351536", "col": "MC ATO", "val": -0.68, "lvl": -3},
      {"probe": "A_33_P3351536", "col": "MC ROSU", "val": -0.55, "lvl": -2},
      {"probe": "A_23_P251316", "col": "HK2 ATO", "val": 0.13, "lvl": 0},
      {"probe": "A_23_P251316", "col": "HK2 ROSU", "val": -0.11, "lvl": 0},
      {"probe": "A_23_P251316", "col": "MC ATO", "val": -0.40, "lvl": -3},
      {"probe": "A_23_P251316", "col": "MC ROSU", "val": -0.34, "lvl": -1},
      {"probe": "A_33_P3237135", "col": "HK2 ATO", "val": 0.01, "lvl": 0},
      {"probe": "A_33_P3237135", "col": "HK2 ROSU", "val": 0.02, "lvl": 0},
      {"probe": "A_33_P3237135", "col": "MC ATO", "val": 0.37, "lvl": 3},
      {"probe": "A_33_P3237135", "col": "MC ROSU", "val": 0.32, "lvl": 3},
      {"probe": "A_33_P3593774", "col": "HK2 ATO", "val": 0.13, "lvl": 0},
      {"probe": "A_33_P3593774", "col": "HK2 ROSU", "val": 0.22, "lvl": 0},
      {"probe": "A_33_P3593774", "col": "MC ATO", "val": 0.15, "lvl": 3},
      {"probe": "A_33_P3593774", "col": "MC ROSU", "val": 0.28, "lvl": 3},
      {"probe": "A_24_P319364", "col": "HK2 ATO", "val": 0.15, "lvl": 0},
      {"probe": "A_24_P319364", "col": "HK2 ROSU", "val": 0.14, "lvl": 0},
      {"probe": "A_24_P319364", "col": "MC ATO", "val": 0.42, "lvl": 3},
      {"probe": "A_24_P319364", "col": "MC ROSU", "val": 0.37, "lvl": 3},
      {"probe": "A_24_P412156", "col": "HK2 ATO", "val": -0.07, "lvl": 0},
      {"probe": "A_24_P412156", "col": "HK2 ROSU", "val": -0.08, "lvl": 0},
      {"probe": "A_24_P412156", "col": "MC ATO", "val": 0.67, "lvl": 3},
      {"probe": "A_24_P412156", "col": "MC ROSU", "val": 0.72, "lvl": 3},
      {"probe": "A_23_P19590", "col": "HK2 ATO", "val": 0.67, "lvl": 1},
      {"probe": "A_23_P19590", "col": "HK2 ROSU", "val": 0.44, "lvl": 1},
      {"probe": "A_23_P19590", "col": "MC ATO", "val": 0.82, "lvl": 3},
      {"probe": "A_23_P19590", "col": "MC ROSU", "val": 0.60, "lvl": 3},
      {"probe": "A_33_P3285545", "col": "HK2 ATO", "val": 1.58, "lvl": 3},
      {"probe": "A_33_P3285545", "col": "HK2 ROSU", "val": 1.26, "lvl": 3},
      {"probe": "A_33_P3285545", "col": "MC ATO", "val": 0.47, "lvl": 2},
      {"probe": "A_33_P3285545", "col": "MC ROSU", "val": 0.30, "lvl": 1}
    ],
    "mineral_rows": [
      {"probe": "A_23_P37983", "gene": "MT1B"},
      {"probe": "A_23_P54840", "gene": "MT1A"},
      {"probe": "A_23_P206724", "gene": "MT1E"},
      {"probe": "A_33_P3368313", "gene": "MT1H"},
      {"probe": "A_23_P66241", "gene": "MT1M"},
      {"probe": "A_33_P3350056", "gene": "MT1X"},
      {"probe": "A_33_P3236868", "gene": "MT1X"},
      {"probe": "A_23_P23815", "gene": "SLC30A1"},
      {"probe": "A_23_P106844", "gene": "MT2A"},
      {"probe": "A_33_P3233645", "gene": "MT1G"},
      {"probe": "A_23_P120883", "gene": "HMOX1", "bold": true},
      {"probe": "A_23_P15174", "gene": "MT1F"}
    ],
    "mineral_cells": [
      {"probe": "A_23_P37983", "col": "HK2 ATO", "val": 0.26, "lvl": 0},
      {"probe": "A_23_P37983", "col": "HK2 ROSU", "val": -0.90, "lvl": -3},
      {"probe": "A_23_P37983", "col": "MC ATO", "val": 1.17, "lvl": 3},
      {"probe": "A_23_P37983", "col": "MC ROSU", "val": 0.45, "lvl": 0},
      {"probe": "A_23_P54840", "col": "HK2 ATO", "val": 0.28, "lvl": 0},
      {"probe": "A_23_P54840", "col": "HK2 ROSU", "val": -0.45, "lvl": -1},
      {"probe": "A_23_P54840", "col": "MC ATO", "val": 1.01, "lvl": 3},
      {"probe": "A_23_P54840", "col": "MC ROSU", "val": 0.26, "lvl": 0},
      {"probe": "A_23_P206724", "col": "HK2 ATO", "val": 0.33, "lvl": 1},
      {"probe": "A_23_P206724", "col": "HK2 ROSU", "val": -0.93, "lvl": -3},
      {"probe": "A_23_P206724", "col": "MC ATO", "val": 1.33, "lvl": 3},
      {"probe": "A_23_P206724", "col": "MC ROSU", "val": 0.44, "lvl": 1},
      {"probe": "A_33_P3368313", "col": "HK2 ATO", "val": 1.27, "lvl": 3},
      {"probe": "A_33_P3368313", "col": "HK2 ROSU", "val": -0.17, "lvl": 0},
      {"probe": "A_33_P3368313", "col": "MC ATO", "val": 0.09, "lvl": 1},
      {"probe": "A_33_P3368313", "col": "MC ROSU", "val": 0.03, "lvl": 0},
      {"probe": "A_23_P66241", "col": "HK2 ATO", "val": 0.43, "lvl": 0},
      {"probe": "A_23_P66241", "col": "HK2 ROSU", "val": -0.88, "lvl": -2},
      {"probe": "A_23_P66241", "col": "MC ATO", "val": 1.48, "lvl": 3},
      {"probe": "A_23_P66241", "col": "MC ROSU", "val": 0.35, "lvl": 0},
      {"probe": "A_33_P3350056", "col": "HK2 ATO", "val": 0.38, "lvl": 1},
      {"probe": "A_33_P3350056", "col": "HK2 ROSU", "val": -0.67, "lvl": -2},
      {"probe": "A_33_P3350056", "col": "MC ATO", "val": 1.26, "lvl": 3},
      {"probe": "A_33_P3350056", "col": "MC ROSU", "val": 0.45, "lvl": 0},
      {"probe": "A_33_P3236868", "col": "HK2 ATO", "val": 0.89, "lvl": 3},
      {"probe": "A_33_P3236868", "col": "HK2 ROSU", "val": -0.42, "lvl": -1},
      {"probe": "A_33_P3236868", "col": "MC ATO", "val": 1.24, "lvl": 3},
      {"probe": "A_33_P3236868", "col": "MC ROSU", "val": 0.13, "lvl": 0},
      {"probe": "A_23_P23815", "col": "HK2 ATO", "val": 1.06, "lvl": 3},
      {"probe": "A_23_P23815", "col": "HK2 ROSU", "val": 0.36, "lvl": 1},
      {"probe": "A_23_P23815", "col": "MC ATO", "val": 0.28, "lvl": 0},
      {"probe": "A_23_P23815", "col": "MC ROSU", "val": 0.13, "lvl": 0},
      {"probe": "A_23_P106844", "col": "HK2 ATO", "val": 0.07, "lvl": 0},
      {"probe": "A_23_P106844", "col": "HK2 ROSU", "val": -0.01, "lvl": 0},
      {"probe": "A_23_P106844", "col": "MC ATO", "val": 1.30, "lvl": 3},
      {"probe": "A_23_P106844", "col": "MC ROSU", "val": 0.59, "lvl": 3},
      {"probe": "A_33_P3233645", "col": "HK2 ATO", "val": 2.13, "lvl": 3},
      {"probe": "A_33_P3233645", "col": "HK2 ROSU", "val": -0.45, "lvl": 0},
      {"probe": "A_33_P3233645", "col": "MC ATO", "val": 0.72, "lvl": 2},
      {"probe": "A_33_P3233645", "col": "MC ROSU", "val": 0.30, "lvl": 0},
      {"probe": "A_23_P120883", "col": "HK2 ATO", "val": 0.99, "lvl": 3},
      {"probe": "A_23_P120883", "col": "HK2 ROSU", "val": 0.48, "lvl": 1},
      {"probe": "A_23_P120883", "col": "MC ATO", "val": 0.89, "lvl": 3},
      {"probe": "A_23_P120883", "col": "MC ROSU", "val": 0.45, "lvl": 1},
      {"probe": "A_23_P15174", "col": "HK2 ATO", "val": 1.56, "lvl": 3},
      {"probe": "A_23_P15174", "col": "HK2 ROSU", "val": -0.31, "lvl": 0},
      {"probe": "A_23_P15174", "col": "MC ATO", "val": 1.46, "lvl": 3},
      {"probe": "A_23_P15174", "col": "MC ROSU", "val": 0.15, "lvl": 0}
    ]
  },
  "spacing": 18,
  "hconcat": [
    {
      "title": {"text": "MAPK signaling", "orient": "right", "anchor": "middle", "frame": "bounds", "angle": 270, "fontSize": 14, "fontWeight": "bold", "color": "#000", "offset": -9},
      "spacing": 0,
      "hconcat": [
        {
          "width": 110, "height": {"step": 11.4},
          "data": {"name": "mapk_rows"},
          "encoding": {"y": {"field": "probe", "type": "nominal", "sort": null, "axis": null, "scale": {"paddingInner": 0, "paddingOuter": 0}}},
          "layer": [
            {"mark": {"type": "rect", "fillOpacity": 0, "stroke": "#222", "strokeWidth": 1},
             "encoding": {
               "x": {"datum": "all", "type": "nominal", "scale": {"type": "band", "domain": ["all"], "paddingInner": 0, "paddingOuter": 0},
                     "axis": {"orient": "top", "title": null, "labels": false, "ticks": false, "tickSize": 0, "domain": true, "domainColor": "#000", "offset": 1}},
               "strokeOpacity": {"condition": {"test": "datum.bold", "value": 1}, "value": 0}}},
            {"layer": [
              {"mark": {"type": "text", "align": "left", "baseline": "middle", "fontSize": 8.3, "color": "#111"},
               "encoding": {
                 "x": {"datum": "ProbeName", "type": "nominal",
                       "scale": {"type": "point", "domain": ["ProbeName", "Symbol"], "range": [1, 66], "padding": 0},
                       "axis": {"orient": "top", "title": null, "domain": false, "ticks": false, "tickSize": 0, "labelAlign": "left", "labelFontWeight": "bold", "labelFontSize": 9, "labelColor": "#000", "labelPadding": 1, "offset": 1, "labelAngle": 0}},
                 "text": {"field": "probe"},
                 "fontWeight": {"condition": {"test": "datum.bold", "value": "bold"}, "value": "normal"}}},
              {"mark": {"type": "text", "align": "left", "baseline": "middle", "fontSize": 8.3, "color": "#111"},
               "encoding": {
                 "x": {"datum": "Symbol", "type": "nominal"},
                 "text": {"field": "gene"},
                 "fontWeight": {"condition": {"test": "datum.bold", "value": "bold"}, "value": "normal"}}}
            ]}
          ],
          "resolve": {"scale": {"x": "independent"}}
        },
        {
          "width": 94, "height": {"step": 11.4},
          "data": {"name": "mapk_cells"},
          "transform": [{"calculate": "split(datum.col, ' ')[0]", "as": "grp"}],
          "encoding": {"y": {"field": "probe", "type": "nominal", "sort": null, "axis": null, "scale": {"paddingInner": 0, "paddingOuter": 0}}},
          "layer": [
            {
              "encoding": {"x": {"field": "col", "type": "nominal",
                "scale": {"domain": ["HK2 ATO", "HK2 ROSU", "MC ATO", "MC ROSU"], "paddingInner": 0, "paddingOuter": 0},
                "axis": {"orient": "top", "title": null, "domain": true, "domainColor": "#000", "ticks": false, "tickSize": 0, "labelFontWeight": "bold", "labelFontSize": 9, "labelColor": "#000", "labelPadding": 1, "offset": 1, "labelAngle": 0, "labelExpr": "split(datum.value, ' ')[1]"}}},
              "layer": [
                {"mark": {"type": "rect", "stroke": "#fff", "strokeWidth": 1},
                 "encoding": {"fill": {"field": "lvl", "type": "ordinal", "legend": null,
                   "scale": {"domain": [-3, -2, -1, 0, 1, 2, 3], "range": ["#9e7727", "#e4bd62", "#f8e5bb", "#dcdcdc", "#d7cbe7", "#9a80c6", "#4e3a77"]}}}},
                {"mark": {"type": "text", "fontSize": 7.5, "baseline": "middle"},
                 "encoding": {"text": {"field": "val", "type": "quantitative", "format": ".2f"},
                   "color": {"condition": {"test": "datum.lvl == -3 || datum.lvl >= 2", "value": "#fff"}, "value": "#4a4a4a"}}}
              ]
            },
            {"mark": {"type": "rect", "opacity": 0},
             "encoding": {"x": {"field": "grp", "type": "nominal",
               "scale": {"domain": ["HK2", "MC"], "paddingInner": 0, "paddingOuter": 0},
               "axis": {"orient": "top", "title": null, "domain": false, "ticks": false, "tickSize": 0, "labelFontWeight": "bold", "labelFontSize": 9, "labelColor": "#000", "labelPadding": 0, "offset": 12, "labelAngle": 0}}}}
          ],
          "resolve": {"scale": {"x": "independent"}}
        }
      ]
    },
    {
      "spacing": 12,
      "vconcat": [
        {
          "title": {"text": "TGFB signaling", "orient": "right", "anchor": "middle", "frame": "bounds", "angle": 270, "fontSize": 14, "fontWeight": "bold", "color": "#000", "offset": -9},
          "spacing": 0,
          "hconcat": [
            {
              "width": 110, "height": {"step": 11.4},
              "data": {"name": "tgfb_rows"},
              "encoding": {"y": {"field": "probe", "type": "nominal", "sort": null, "axis": null, "scale": {"paddingInner": 0, "paddingOuter": 0}}},
              "layer": [
                {"mark": {"type": "rect", "fillOpacity": 0, "stroke": "#222", "strokeWidth": 1},
                 "encoding": {
                   "x": {"datum": "all", "type": "nominal", "scale": {"type": "band", "domain": ["all"], "paddingInner": 0, "paddingOuter": 0},
                         "axis": {"orient": "top", "title": null, "labels": false, "ticks": false, "tickSize": 0, "domain": true, "domainColor": "#000", "offset": 1}},
                   "strokeOpacity": {"condition": {"test": "datum.bold", "value": 1}, "value": 0}}},
                {"layer": [
                  {"mark": {"type": "text", "align": "left", "baseline": "middle", "fontSize": 8.3, "color": "#111"},
                   "encoding": {
                     "x": {"datum": "ProbeName", "type": "nominal",
                           "scale": {"type": "point", "domain": ["ProbeName", "Symbol"], "range": [1, 66], "padding": 0},
                           "axis": {"orient": "top", "title": null, "domain": false, "ticks": false, "tickSize": 0, "labelAlign": "left", "labelFontWeight": "bold", "labelFontSize": 9, "labelColor": "#000", "labelPadding": 1, "offset": 1, "labelAngle": 0}},
                     "text": {"field": "probe"},
                     "fontWeight": {"condition": {"test": "datum.bold", "value": "bold"}, "value": "normal"}}},
                  {"mark": {"type": "text", "align": "left", "baseline": "middle", "fontSize": 8.3, "color": "#111"},
                   "encoding": {
                     "x": {"datum": "Symbol", "type": "nominal"},
                     "text": {"field": "gene"},
                     "fontWeight": {"condition": {"test": "datum.bold", "value": "bold"}, "value": "normal"}}}
                ]}
              ],
              "resolve": {"scale": {"x": "independent"}}
            },
            {
              "width": 94, "height": {"step": 11.4},
              "data": {"name": "tgfb_cells"},
              "transform": [{"calculate": "split(datum.col, ' ')[0]", "as": "grp"}],
              "encoding": {"y": {"field": "probe", "type": "nominal", "sort": null, "axis": null, "scale": {"paddingInner": 0, "paddingOuter": 0}}},
              "layer": [
                {
                  "encoding": {"x": {"field": "col", "type": "nominal",
                    "scale": {"domain": ["HK2 ATO", "HK2 ROSU", "MC ATO", "MC ROSU"], "paddingInner": 0, "paddingOuter": 0},
                    "axis": {"orient": "top", "title": null, "domain": true, "domainColor": "#000", "ticks": false, "tickSize": 0, "labelFontWeight": "bold", "labelFontSize": 9, "labelColor": "#000", "labelPadding": 1, "offset": 1, "labelAngle": 0, "labelExpr": "split(datum.value, ' ')[1]"}}},
                  "layer": [
                    {"mark": {"type": "rect", "stroke": "#fff", "strokeWidth": 1},
                     "encoding": {"fill": {"field": "lvl", "type": "ordinal", "legend": null,
                       "scale": {"domain": [-3, -2, -1, 0, 1, 2, 3], "range": ["#9e7727", "#e4bd62", "#f8e5bb", "#dcdcdc", "#d7cbe7", "#9a80c6", "#4e3a77"]}}}},
                    {"mark": {"type": "text", "fontSize": 7.5, "baseline": "middle"},
                     "encoding": {"text": {"field": "val", "type": "quantitative", "format": ".2f"},
                       "color": {"condition": {"test": "datum.lvl == -3 || datum.lvl >= 2", "value": "#fff"}, "value": "#4a4a4a"}}}
                  ]
                },
                {"mark": {"type": "rect", "opacity": 0},
                 "encoding": {"x": {"field": "grp", "type": "nominal",
                   "scale": {"domain": ["HK2", "MC"], "paddingInner": 0, "paddingOuter": 0},
                   "axis": {"orient": "top", "title": null, "domain": false, "ticks": false, "tickSize": 0, "labelFontWeight": "bold", "labelFontSize": 9, "labelColor": "#000", "labelPadding": 0, "offset": 12, "labelAngle": 0}}}}
              ],
              "resolve": {"scale": {"x": "independent"}}
            }
          ]
        },
        {
          "title": {"text": "Focal adhesion", "orient": "right", "anchor": "middle", "frame": "bounds", "angle": 270, "fontSize": 14, "fontWeight": "bold", "color": "#000", "offset": -9},
          "spacing": 0,
          "hconcat": [
            {
              "width": 110, "height": {"step": 11.4},
              "data": {"name": "focal_rows"},
              "encoding": {"y": {"field": "probe", "type": "nominal", "sort": null, "axis": null, "scale": {"paddingInner": 0, "paddingOuter": 0}}},
              "layer": [
                {"mark": {"type": "rect", "fillOpacity": 0, "stroke": "#222", "strokeWidth": 1},
                 "encoding": {
                   "x": {"datum": "all", "type": "nominal", "scale": {"type": "band", "domain": ["all"], "paddingInner": 0, "paddingOuter": 0},
                         "axis": {"orient": "top", "title": null, "labels": false, "ticks": false, "tickSize": 0, "domain": true, "domainColor": "#000", "offset": 1}},
                   "strokeOpacity": {"condition": {"test": "datum.bold", "value": 1}, "value": 0}}},
                {"layer": [
                  {"mark": {"type": "text", "align": "left", "baseline": "middle", "fontSize": 8.3, "color": "#111"},
                   "encoding": {
                     "x": {"datum": "ProbeName", "type": "nominal",
                           "scale": {"type": "point", "domain": ["ProbeName", "Symbol"], "range": [1, 66], "padding": 0},
                           "axis": {"orient": "top", "title": null, "domain": false, "ticks": false, "tickSize": 0, "labelAlign": "left", "labelFontWeight": "bold", "labelFontSize": 9, "labelColor": "#000", "labelPadding": 1, "offset": 1, "labelAngle": 0}},
                     "text": {"field": "probe"},
                     "fontWeight": {"condition": {"test": "datum.bold", "value": "bold"}, "value": "normal"}}},
                  {"mark": {"type": "text", "align": "left", "baseline": "middle", "fontSize": 8.3, "color": "#111"},
                   "encoding": {
                     "x": {"datum": "Symbol", "type": "nominal"},
                     "text": {"field": "gene"},
                     "fontWeight": {"condition": {"test": "datum.bold", "value": "bold"}, "value": "normal"}}}
                ]}
              ],
              "resolve": {"scale": {"x": "independent"}}
            },
            {
              "width": 94, "height": {"step": 11.4},
              "data": {"name": "focal_cells"},
              "transform": [{"calculate": "split(datum.col, ' ')[0]", "as": "grp"}],
              "encoding": {"y": {"field": "probe", "type": "nominal", "sort": null, "axis": null, "scale": {"paddingInner": 0, "paddingOuter": 0}}},
              "layer": [
                {
                  "encoding": {"x": {"field": "col", "type": "nominal",
                    "scale": {"domain": ["HK2 ATO", "HK2 ROSU", "MC ATO", "MC ROSU"], "paddingInner": 0, "paddingOuter": 0},
                    "axis": {"orient": "top", "title": null, "domain": true, "domainColor": "#000", "ticks": false, "tickSize": 0, "labelFontWeight": "bold", "labelFontSize": 9, "labelColor": "#000", "labelPadding": 1, "offset": 1, "labelAngle": 0, "labelExpr": "split(datum.value, ' ')[1]"}}},
                  "layer": [
                    {"mark": {"type": "rect", "stroke": "#fff", "strokeWidth": 1},
                     "encoding": {"fill": {"field": "lvl", "type": "ordinal", "legend": null,
                       "scale": {"domain": [-3, -2, -1, 0, 1, 2, 3], "range": ["#9e7727", "#e4bd62", "#f8e5bb", "#dcdcdc", "#d7cbe7", "#9a80c6", "#4e3a77"]}}}},
                    {"mark": {"type": "text", "fontSize": 7.5, "baseline": "middle"},
                     "encoding": {"text": {"field": "val", "type": "quantitative", "format": ".2f"},
                       "color": {"condition": {"test": "datum.lvl == -3 || datum.lvl >= 2", "value": "#fff"}, "value": "#4a4a4a"}}}
                  ]
                },
                {"mark": {"type": "rect", "opacity": 0},
                 "encoding": {"x": {"field": "grp", "type": "nominal",
                   "scale": {"domain": ["HK2", "MC"], "paddingInner": 0, "paddingOuter": 0},
                   "axis": {"orient": "top", "title": null, "domain": false, "ticks": false, "tickSize": 0, "labelFontWeight": "bold", "labelFontSize": 9, "labelColor": "#000", "labelPadding": 0, "offset": 12, "labelAngle": 0}}}}
              ],
              "resolve": {"scale": {"x": "independent"}}
            }
          ]
        }
      ]
    },
    {
      "spacing": 11,
      "vconcat": [
        {
          "title": {"text": "TNF signaling", "orient": "right", "anchor": "middle", "frame": "bounds", "angle": 270, "fontSize": 14, "fontWeight": "bold", "color": "#000", "offset": -9},
          "spacing": 0,
          "hconcat": [
            {
              "width": 110, "height": {"step": 11.4},
              "data": {"name": "tnf_rows"},
              "encoding": {"y": {"field": "probe", "type": "nominal", "sort": null, "axis": null, "scale": {"paddingInner": 0, "paddingOuter": 0}}},
              "layer": [
                {"mark": {"type": "rect", "fillOpacity": 0, "stroke": "#222", "strokeWidth": 1},
                 "encoding": {
                   "x": {"datum": "all", "type": "nominal", "scale": {"type": "band", "domain": ["all"], "paddingInner": 0, "paddingOuter": 0},
                         "axis": {"orient": "top", "title": null, "labels": false, "ticks": false, "tickSize": 0, "domain": true, "domainColor": "#000", "offset": 1}},
                   "strokeOpacity": {"condition": {"test": "datum.bold", "value": 1}, "value": 0}}},
                {"layer": [
                  {"mark": {"type": "text", "align": "left", "baseline": "middle", "fontSize": 8.3, "color": "#111"},
                   "encoding": {
                     "x": {"datum": "ProbeName", "type": "nominal",
                           "scale": {"type": "point", "domain": ["ProbeName", "Symbol"], "range": [1, 66], "padding": 0},
                           "axis": {"orient": "top", "title": null, "domain": false, "ticks": false, "tickSize": 0, "labelAlign": "left", "labelFontWeight": "bold", "labelFontSize": 9, "labelColor": "#000", "labelPadding": 1, "offset": 1, "labelAngle": 0}},
                     "text": {"field": "probe"},
                     "fontWeight": {"condition": {"test": "datum.bold", "value": "bold"}, "value": "normal"}}},
                  {"mark": {"type": "text", "align": "left", "baseline": "middle", "fontSize": 8.3, "color": "#111"},
                   "encoding": {
                     "x": {"datum": "Symbol", "type": "nominal"},
                     "text": {"field": "gene"},
                     "fontWeight": {"condition": {"test": "datum.bold", "value": "bold"}, "value": "normal"}}}
                ]}
              ],
              "resolve": {"scale": {"x": "independent"}}
            },
            {
              "width": 94, "height": {"step": 11.4},
              "data": {"name": "tnf_cells"},
              "transform": [{"calculate": "split(datum.col, ' ')[0]", "as": "grp"}],
              "encoding": {"y": {"field": "probe", "type": "nominal", "sort": null, "axis": null, "scale": {"paddingInner": 0, "paddingOuter": 0}}},
              "layer": [
                {
                  "encoding": {"x": {"field": "col", "type": "nominal",
                    "scale": {"domain": ["HK2 ATO", "HK2 ROSU", "MC ATO", "MC ROSU"], "paddingInner": 0, "paddingOuter": 0},
                    "axis": {"orient": "top", "title": null, "domain": true, "domainColor": "#000", "ticks": false, "tickSize": 0, "labelFontWeight": "bold", "labelFontSize": 9, "labelColor": "#000", "labelPadding": 1, "offset": 1, "labelAngle": 0, "labelExpr": "split(datum.value, ' ')[1]"}}},
                  "layer": [
                    {"mark": {"type": "rect", "stroke": "#fff", "strokeWidth": 1},
                     "encoding": {"fill": {"field": "lvl", "type": "ordinal", "legend": null,
                       "scale": {"domain": [-3, -2, -1, 0, 1, 2, 3], "range": ["#9e7727", "#e4bd62", "#f8e5bb", "#dcdcdc", "#d7cbe7", "#9a80c6", "#4e3a77"]}}}},
                    {"mark": {"type": "text", "fontSize": 7.5, "baseline": "middle"},
                     "encoding": {"text": {"field": "val", "type": "quantitative", "format": ".2f"},
                       "color": {"condition": {"test": "datum.lvl == -3 || datum.lvl >= 2", "value": "#fff"}, "value": "#4a4a4a"}}}
                  ]
                },
                {"mark": {"type": "rect", "opacity": 0},
                 "encoding": {"x": {"field": "grp", "type": "nominal",
                   "scale": {"domain": ["HK2", "MC"], "paddingInner": 0, "paddingOuter": 0},
                   "axis": {"orient": "top", "title": null, "domain": false, "ticks": false, "tickSize": 0, "labelFontWeight": "bold", "labelFontSize": 9, "labelColor": "#000", "labelPadding": 0, "offset": 12, "labelAngle": 0}}}}
              ],
              "resolve": {"scale": {"x": "independent"}}
            }
          ]
        },
        {
          "title": {"text": ["Leukocyte transendothelial", "migration"], "orient": "right", "anchor": "middle", "frame": "bounds", "angle": 270, "fontSize": 14, "fontWeight": "bold", "color": "#000", "offset": -22, "lineHeight": 15},
          "spacing": 0,
          "hconcat": [
            {
              "width": 110, "height": {"step": 11.4},
              "data": {"name": "leuko_rows"},
              "encoding": {"y": {"field": "probe", "type": "nominal", "sort": null, "axis": null, "scale": {"paddingInner": 0, "paddingOuter": 0}}},
              "layer": [
                {"mark": {"type": "rect", "fillOpacity": 0, "stroke": "#222", "strokeWidth": 1},
                 "encoding": {
                   "x": {"datum": "all", "type": "nominal", "scale": {"type": "band", "domain": ["all"], "paddingInner": 0, "paddingOuter": 0},
                         "axis": {"orient": "top", "title": null, "labels": false, "ticks": false, "tickSize": 0, "domain": true, "domainColor": "#000", "offset": 1}},
                   "strokeOpacity": {"condition": {"test": "datum.bold", "value": 1}, "value": 0}}},
                {"layer": [
                  {"mark": {"type": "text", "align": "left", "baseline": "middle", "fontSize": 8.3, "color": "#111"},
                   "encoding": {
                     "x": {"datum": "ProbeName", "type": "nominal",
                           "scale": {"type": "point", "domain": ["ProbeName", "Symbol"], "range": [1, 66], "padding": 0},
                           "axis": {"orient": "top", "title": null, "domain": false, "ticks": false, "tickSize": 0, "labelAlign": "left", "labelFontWeight": "bold", "labelFontSize": 9, "labelColor": "#000", "labelPadding": 1, "offset": 1, "labelAngle": 0}},
                     "text": {"field": "probe"},
                     "fontWeight": {"condition": {"test": "datum.bold", "value": "bold"}, "value": "normal"}}},
                  {"mark": {"type": "text", "align": "left", "baseline": "middle", "fontSize": 8.3, "color": "#111"},
                   "encoding": {
                     "x": {"datum": "Symbol", "type": "nominal"},
                     "text": {"field": "gene"},
                     "fontWeight": {"condition": {"test": "datum.bold", "value": "bold"}, "value": "normal"}}}
                ]}
              ],
              "resolve": {"scale": {"x": "independent"}}
            },
            {
              "width": 94, "height": {"step": 11.4},
              "data": {"name": "leuko_cells"},
              "transform": [{"calculate": "split(datum.col, ' ')[0]", "as": "grp"}],
              "encoding": {"y": {"field": "probe", "type": "nominal", "sort": null, "axis": null, "scale": {"paddingInner": 0, "paddingOuter": 0}}},
              "layer": [
                {
                  "encoding": {"x": {"field": "col", "type": "nominal",
                    "scale": {"domain": ["HK2 ATO", "HK2 ROSU", "MC ATO", "MC ROSU"], "paddingInner": 0, "paddingOuter": 0},
                    "axis": {"orient": "top", "title": null, "domain": true, "domainColor": "#000", "ticks": false, "tickSize": 0, "labelFontWeight": "bold", "labelFontSize": 9, "labelColor": "#000", "labelPadding": 1, "offset": 1, "labelAngle": 0, "labelExpr": "split(datum.value, ' ')[1]"}}},
                  "layer": [
                    {"mark": {"type": "rect", "stroke": "#fff", "strokeWidth": 1},
                     "encoding": {"fill": {"field": "lvl", "type": "ordinal", "legend": null,
                       "scale": {"domain": [-3, -2, -1, 0, 1, 2, 3], "range": ["#9e7727", "#e4bd62", "#f8e5bb", "#dcdcdc", "#d7cbe7", "#9a80c6", "#4e3a77"]}}}},
                    {"mark": {"type": "text", "fontSize": 7.5, "baseline": "middle"},
                     "encoding": {"text": {"field": "val", "type": "quantitative", "format": ".2f"},
                       "color": {"condition": {"test": "datum.lvl == -3 || datum.lvl >= 2", "value": "#fff"}, "value": "#4a4a4a"}}}
                  ]
                },
                {"mark": {"type": "rect", "opacity": 0},
                 "encoding": {"x": {"field": "grp", "type": "nominal",
                   "scale": {"domain": ["HK2", "MC"], "paddingInner": 0, "paddingOuter": 0},
                   "axis": {"orient": "top", "title": null, "domain": false, "ticks": false, "tickSize": 0, "labelFontWeight": "bold", "labelFontSize": 9, "labelColor": "#000", "labelPadding": 0, "offset": 12, "labelAngle": 0}}}}
              ],
              "resolve": {"scale": {"x": "independent"}}
            }
          ]
        },
        {
          "title": {"text": "Mineral absorption", "orient": "right", "anchor": "middle", "frame": "bounds", "angle": 270, "fontSize": 14, "fontWeight": "bold", "color": "#000", "offset": -9},
          "spacing": 0,
          "hconcat": [
            {
              "width": 110, "height": {"step": 11.4},
              "data": {"name": "mineral_rows"},
              "encoding": {"y": {"field": "probe", "type": "nominal", "sort": null, "axis": null, "scale": {"paddingInner": 0, "paddingOuter": 0}}},
              "layer": [
                {"mark": {"type": "rect", "fillOpacity": 0, "stroke": "#222", "strokeWidth": 1},
                 "encoding": {
                   "x": {"datum": "all", "type": "nominal", "scale": {"type": "band", "domain": ["all"], "paddingInner": 0, "paddingOuter": 0},
                         "axis": {"orient": "top", "title": null, "labels": false, "ticks": false, "tickSize": 0, "domain": true, "domainColor": "#000", "offset": 1}},
                   "strokeOpacity": {"condition": {"test": "datum.bold", "value": 1}, "value": 0}}},
                {"layer": [
                  {"mark": {"type": "text", "align": "left", "baseline": "middle", "fontSize": 8.3, "color": "#111"},
                   "encoding": {
                     "x": {"datum": "ProbeName", "type": "nominal",
                           "scale": {"type": "point", "domain": ["ProbeName", "Symbol"], "range": [1, 66], "padding": 0},
                           "axis": {"orient": "top", "title": null, "domain": false, "ticks": false, "tickSize": 0, "labelAlign": "left", "labelFontWeight": "bold", "labelFontSize": 9, "labelColor": "#000", "labelPadding": 1, "offset": 1, "labelAngle": 0}},
                     "text": {"field": "probe"},
                     "fontWeight": {"condition": {"test": "datum.bold", "value": "bold"}, "value": "normal"}}},
                  {"mark": {"type": "text", "align": "left", "baseline": "middle", "fontSize": 8.3, "color": "#111"},
                   "encoding": {
                     "x": {"datum": "Symbol", "type": "nominal"},
                     "text": {"field": "gene"},
                     "fontWeight": {"condition": {"test": "datum.bold", "value": "bold"}, "value": "normal"}}}
                ]}
              ],
              "resolve": {"scale": {"x": "independent"}}
            },
            {
              "width": 94, "height": {"step": 11.4},
              "data": {"name": "mineral_cells"},
              "transform": [{"calculate": "split(datum.col, ' ')[0]", "as": "grp"}],
              "encoding": {"y": {"field": "probe", "type": "nominal", "sort": null, "axis": null, "scale": {"paddingInner": 0, "paddingOuter": 0}}},
              "layer": [
                {
                  "encoding": {"x": {"field": "col", "type": "nominal",
                    "scale": {"domain": ["HK2 ATO", "HK2 ROSU", "MC ATO", "MC ROSU"], "paddingInner": 0, "paddingOuter": 0},
                    "axis": {"orient": "top", "title": null, "domain": true, "domainColor": "#000", "ticks": false, "tickSize": 0, "labelFontWeight": "bold", "labelFontSize": 9, "labelColor": "#000", "labelPadding": 1, "offset": 1, "labelAngle": 0, "labelExpr": "split(datum.value, ' ')[1]"}}},
                  "layer": [
                    {"mark": {"type": "rect", "stroke": "#fff", "strokeWidth": 1},
                     "encoding": {"fill": {"field": "lvl", "type": "ordinal", "legend": null,
                       "scale": {"domain": [-3, -2, -1, 0, 1, 2, 3], "range": ["#9e7727", "#e4bd62", "#f8e5bb", "#dcdcdc", "#d7cbe7", "#9a80c6", "#4e3a77"]}}}},
                    {"mark": {"type": "text", "fontSize": 7.5, "baseline": "middle"},
                     "encoding": {"text": {"field": "val", "type": "quantitative", "format": ".2f"},
                       "color": {"condition": {"test": "datum.lvl == -3 || datum.lvl >= 2", "value": "#fff"}, "value": "#4a4a4a"}}}
                  ]
                },
                {"mark": {"type": "rect", "opacity": 0},
                 "encoding": {"x": {"field": "grp", "type": "nominal",
                   "scale": {"domain": ["HK2", "MC"], "paddingInner": 0, "paddingOuter": 0},
                   "axis": {"orient": "top", "title": null, "domain": false, "ticks": false, "tickSize": 0, "labelFontWeight": "bold", "labelFontSize": 9, "labelColor": "#000", "labelPadding": 0, "offset": 12, "labelAngle": 0}}}}
              ],
              "resolve": {"scale": {"x": "independent"}}
            }
          ]
        }
      ]
    }
  ]
}
